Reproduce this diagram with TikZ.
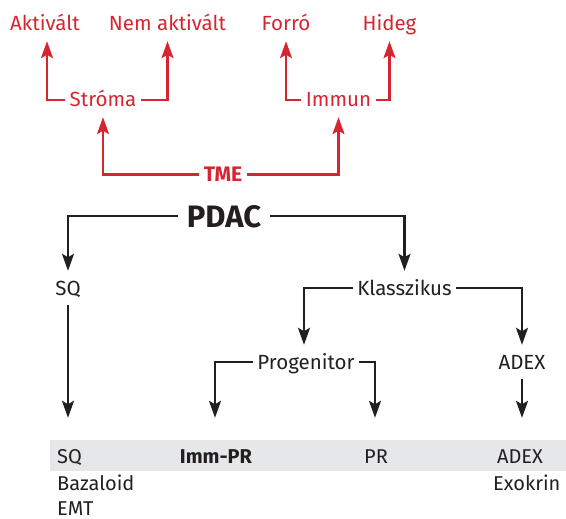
\documentclass[tikz,border=0pt]{standalone}
\usepackage{fontspec}
\setmainfont{Fira Sans}
\usetikzlibrary{arrows.meta}
\definecolor{cred}{RGB}{213,37,48}
\definecolor{cblack}{RGB}{35,31,32}
\definecolor{cband}{RGB}{230,231,232}
\begin{document}
\begin{tikzpicture}[x=1pt,y=-1pt,
  lbl/.style={anchor=base, inner xsep=4.5pt, inner ysep=10pt, text height=14pt, text depth=0pt, font=\fontsize{20.5}{24}\selectfont},
  rlbl/.style={lbl, text=cred},
  blbl/.style={lbl, text=cblack},
  rowlbl/.style={inner sep=0pt, text height=14pt, text depth=0pt, text=cblack, font=\fontsize{20}{24}\selectfont},
  conn/.style={line width=2.2pt, -{Stealth[length=17pt,width=12pt,inset=3.5pt]}},
  rconn/.style={conn, draw=cred, color=cred},
  bconn/.style={conn, draw=cblack, color=cblack}]
\useasboundingbox (0,0) rectangle (566,519);
% band
\fill[cband] (50,440) rectangle (566,471);
% red part
\node[rlbl] (akt) at (45,31) {Aktivált};
\node[rlbl] (nem) at (167.5,31) {Nem aktivált};
\node[rlbl] (forro) at (286,31) {Forró};
\node[rlbl] (hideg) at (389.5,31) {Hideg};
\node[rlbl] (stroma) at (103,107) {Stróma};
\node[rlbl] (immun) at (338.5,107) {Immun};
\node[rlbl, text height=15pt, font=\fontsize{21}{24}\selectfont\bfseries] (tme) at (223,182) {TME};
% black part
\node[blbl, text height=22pt, inner xsep=9pt, font=\fontsize{31}{34}\selectfont\bfseries] (pdac) at (224,227) {PDAC};
\node[blbl] (sq) at (68,295) {SQ};
\node[blbl] (klass) at (404.5,295) {Klasszikus};
\node[blbl] (prog) at (306,369) {Progenitor};
\node[blbl] (adexm) at (522,369) {ADEX};
% bottom row
\node[rowlbl, anchor=base west] (sqb) at (57,463) {SQ};
\node[rowlbl, anchor=base, font=\fontsize{20}{24}\selectfont\bfseries] (immpr) at (216,463) {Imm-PR};
\node[rowlbl, anchor=base] (pr) at (376,463) {PR};
\node[rowlbl, anchor=base] (adexb) at (520,463) {ADEX};
\node[rowlbl, anchor=base west] (baz) at (57,490) {Bazaloid};
\node[rowlbl, anchor=base west] (emt) at (57,515) {EMT};
\node[rowlbl, anchor=base west] (exo) at (493,490) {Exokrin};
% red connectors
\draw[rconn] (stroma.west) -| ([xshift=2pt]akt.south);
\draw[rconn] (stroma.east) -| (nem.south);
\draw[rconn] (immun.west) -| (forro.south);
\draw[rconn] (immun.east) -| (hideg.south);
\draw[rconn] (tme.west) -| (stroma.south);
\draw[rconn] (tme.east) -| (immun.south);
% black connectors
\draw[bconn] (pdac.west) -| (sq.north);
\draw[bconn] (pdac.east) -| (klass.north);
\draw[bconn] (klass.west) -| ([xshift=-2pt]prog.north);
\draw[bconn] (klass.east) -| (adexm.north);
\draw[bconn, shorten >=31pt] (sq.south) -- (sq.south |- sqb.north);
\draw[bconn, shorten >=31pt] (prog.west) -| ([xshift=-1pt]immpr.north);
\draw[bconn, shorten >=31pt] (prog.east) -| ([xshift=-1pt]pr.north);
\draw[bconn, shorten >=31pt] (adexm.south) -- (adexm.south |- adexb.north);
\end{tikzpicture}
\end{document}
